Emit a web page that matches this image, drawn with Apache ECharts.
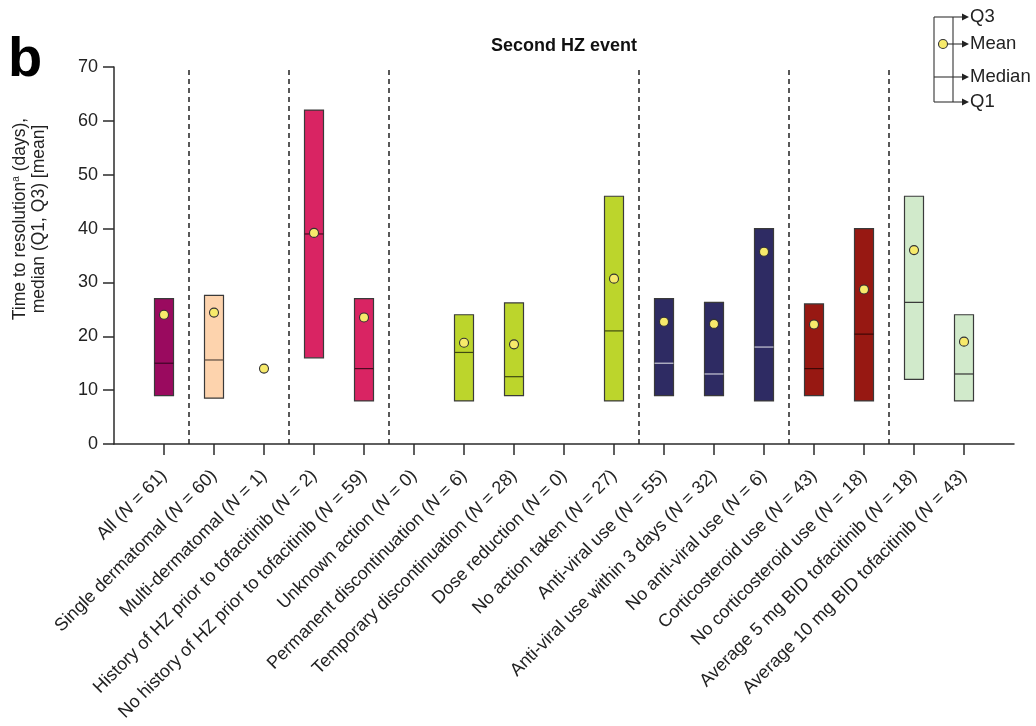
<!DOCTYPE html>
<html>
<head>
<meta charset="utf-8">
<title>Second HZ event</title>
<script src="https://cdn.jsdelivr.net/npm/echarts@6/dist/echarts.min.js"></script>
<style>
  html, body { margin: 0; padding: 0; background: #fff; }
  #chart { width: 1036px; height: 726px; }
</style>
</head>
<body>
<div id="chart"></div>
<script>
// Subgroups of patients with a second HZ event
const categories = [
  'All', 'Single dermatomal', 'Multi-dermatomal',
  'History of HZ prior to tofacitinib', 'No history of HZ prior to tofacitinib',
  'Unknown action', 'Permanent discontinuation', 'Temporary discontinuation',
  'Dose reduction', 'No action taken',
  'Anti-viral use', 'Anti-viral use within 3 days', 'No anti-viral use',
  'Corticosteroid use', 'No corticosteroid use',
  'Average 5 mg BID tofacitinib', 'Average 10 mg BID tofacitinib'
];
const nValues = [61, 60, 1, 2, 59, 0, 6, 28, 0, 27, 55, 32, 6, 43, 18, 18, 43];
const groups = [
  'all', 'extent', 'extent', 'history', 'history',
  'action', 'action', 'action', 'action', 'action',
  'antiviral', 'antiviral', 'antiviral', 'steroid', 'steroid', 'dose', 'dose'
];

// Time to resolution (days)
const q1Values     = [9,  8.5,  null, 16,   8,    null, 8,    9,    null, 8,    9,    9,    8,    9,    8,    12,   8];
const q3Values     = [27, 27.6, null, 62,   27,   null, 24,   26.2, null, 46,   27,   26.3, 40,   26,   40,   46,   24];
const medianValues = [15, 15.6, null, 39,   14,   null, 17,   12.5, null, 21,   15,   13,   18,   14,   20.4, 26.3, 13];
const meanValues   = [24, 24.4, 14,   39.2, 23.5, null, 18.8, 18.5, null, 30.7, 22.7, 22.3, 35.7, 22.2, 28.7, 36,   19];

const yMin = 0, yMax = 70, yStep = 10;

const FONT = '"Liberation Sans", Arial, Helvetica, sans-serif';
const INK = '#2b2b2b';

const groupStyle = {
  all:       { fill: '#9a0a5f', median: '#3d0626' },
  extent:    { fill: '#fdd3ad', median: '#5a4a40' },
  history:   { fill: '#d92463', median: '#4a0c22' },
  action:    { fill: '#bcd52c', median: '#3f4a12' },
  antiviral: { fill: '#2e2b63', median: '#c9c9d6' },
  steroid:   { fill: '#971812', median: '#3e0806' },
  dose:      { fill: '#d1eacb', median: '#333333' }
};

// Dividers between consecutive groups
const dividers = [];
for (let i = 1; i < groups.length; i++) {
  if (groups[i] !== groups[i - 1]) dividers.push({ xAxis: i - 0.5 });
}

const seriesData = [];
categories.forEach((c, i) => {
  if (meanValues[i] == null) return;
  seriesData.push([
    i,
    q1Values[i] == null ? meanValues[i] : q1Values[i],
    q3Values[i] == null ? meanValues[i] : q3Values[i],
    medianValues[i] == null ? meanValues[i] : medianValues[i],
    meanValues[i]
  ]);
});

function renderBox(params, api) {
  const i = api.value(0);
  const st = groupStyle[groups[i]];
  const cx = api.coord([i, 0])[0];
  const w = api.size([1, 0])[0] * 0.38;
  const children = [];
  if (q1Values[i] != null) {
    const top = api.coord([i, api.value(2)])[1];
    const bot = api.coord([i, api.value(1)])[1];
    const my = api.coord([i, api.value(3)])[1];
    children.push({
      type: 'rect',
      shape: { x: cx - w / 2, y: top, width: w, height: bot - top },
      style: { fill: st.fill, stroke: '#3a3a3a', lineWidth: 1.2 }
    });
    children.push({
      type: 'line',
      shape: { x1: cx - w / 2, y1: my, x2: cx + w / 2, y2: my },
      style: { stroke: st.median, lineWidth: 1.2 }
    });
  }
  const mp = api.coord([i, api.value(4)]);
  children.push({
    type: 'circle',
    shape: { cx: mp[0], cy: mp[1], r: 4.5 },
    style: { fill: '#f7ea6b', stroke: '#333', lineWidth: 1.1 }
  });
  return { type: 'group', children };
}

// Key explaining the box elements
const kx = 934, kr = 953, ka = 969;
const ky = { q3: 17, mean: 44, median: 77, q1: 102 };
const keyLine = (x1, y1, x2, y2) => ({
  type: 'line', shape: { x1, y1, x2, y2 },
  style: { stroke: '#333', lineWidth: 1.1 }
});
const keyArrow = (y) => ({
  type: 'polygon', shape: { points: [[ka - 7, y - 3.5], [ka, y], [ka - 7, y + 3.5]] },
  style: { fill: '#222' }
});
const keyText = (y, t) => ({
  type: 'text', x: ka + 1, y,
  style: { text: t, font: '18.5px ' + FONT, fill: '#222', verticalAlign: 'middle', align: 'left' }
});

const chart = echarts.init(document.getElementById('chart'), null, { renderer: 'canvas' });
chart.setOption({
  animation: false,
  backgroundColor: '#fff',
  title: {
    text: 'Second HZ event',
    left: 559, top: 32, textAlign: 'center',
    textStyle: { fontFamily: FONT, fontSize: 18, fontWeight: 'bold', color: '#111' }
  },
  grid: { left: 114, right: 22, top: 67, bottom: 282 },
  xAxis: {
    type: 'value',
    min: -1, max: categories.length, interval: 1,
    axisLine: { show: true, onZero: false, lineStyle: { color: INK, width: 1.5 } },
    axisTick: {
      show: true, length: 11, inside: false,
      customValues: categories.map((c, i) => i),
      lineStyle: { color: INK, width: 1.5 }
    },
    splitLine: { show: false },
    axisLabel: {
      customValues: categories.map((c, i) => i),
      rotate: 45, margin: 29,
      fontFamily: FONT, fontSize: 18, color: '#222',
      formatter: (v) => `${categories[v]} ({it|N} = ${nValues[v]})`,
      rich: { it: { fontFamily: FONT, fontSize: 18, fontStyle: 'italic', color: '#222' } }
    }
  },
  yAxis: {
    type: 'value',
    min: yMin, max: yMax, interval: yStep,
    axisLine: { show: true, onZero: false, lineStyle: { color: INK, width: 1.5 } },
    axisTick: { show: true, length: 11, inside: false, lineStyle: { color: INK, width: 1.5 } },
    splitLine: { show: false },
    axisLabel: { fontFamily: FONT, fontSize: 18, color: '#222', margin: 16 }
  },
  graphic: [
    {
      type: 'text', left: 8, top: 33,
      style: { text: 'b', font: 'bold 56px ' + FONT, fill: '#000' }
    },
    {
      // y-axis title
      type: 'text', x: 30, y: 219, rotation: Math.PI / 2,
      style: {
        text: 'Time to resolution{sup|a} (days),\nmedian (Q1, Q3) [mean]',
        font: '17.5px ' + FONT, fill: '#222', align: 'center', verticalAlign: 'middle',
        lineHeight: 19,
        rich: {
          sup: { fontFamily: FONT, fontSize: 10, fill: '#222', verticalAlign: 'top', lineHeight: 12 }
        }
      }
    },
    {
      type: 'group', silent: true,
      children: [
        keyLine(kx, ky.q3, kx, ky.q1),
        keyLine(kr, ky.q3, kr, ky.q1),
        keyLine(kx, ky.q3, ka - 5, ky.q3), keyArrow(ky.q3),
        keyLine(kx, ky.median, ka - 5, ky.median), keyArrow(ky.median),
        keyLine(kx, ky.q1, ka - 5, ky.q1), keyArrow(ky.q1),
        keyLine(947, ky.mean, ka - 5, ky.mean), keyArrow(ky.mean),
        { type: 'circle', shape: { cx: 943, cy: ky.mean, r: 4.5 },
          style: { fill: '#f7ea6b', stroke: '#333', lineWidth: 1.1 } },
        keyText(ky.q3, 'Q3'), keyText(ky.mean, 'Mean'),
        keyText(ky.median, 'Median'), keyText(ky.q1, 'Q1')
      ]
    }
  ],
  series: [{
    type: 'custom',
    renderItem: renderBox,
    encode: { x: 0, y: [1, 2, 3, 4] },
    data: seriesData,
    markLine: {
      silent: true, symbol: 'none', label: { show: false },
      lineStyle: { color: '#222', type: [5, 4], width: 1.5 },
      data: dividers
    }
  }]
});
</script>
</body>
</html>
